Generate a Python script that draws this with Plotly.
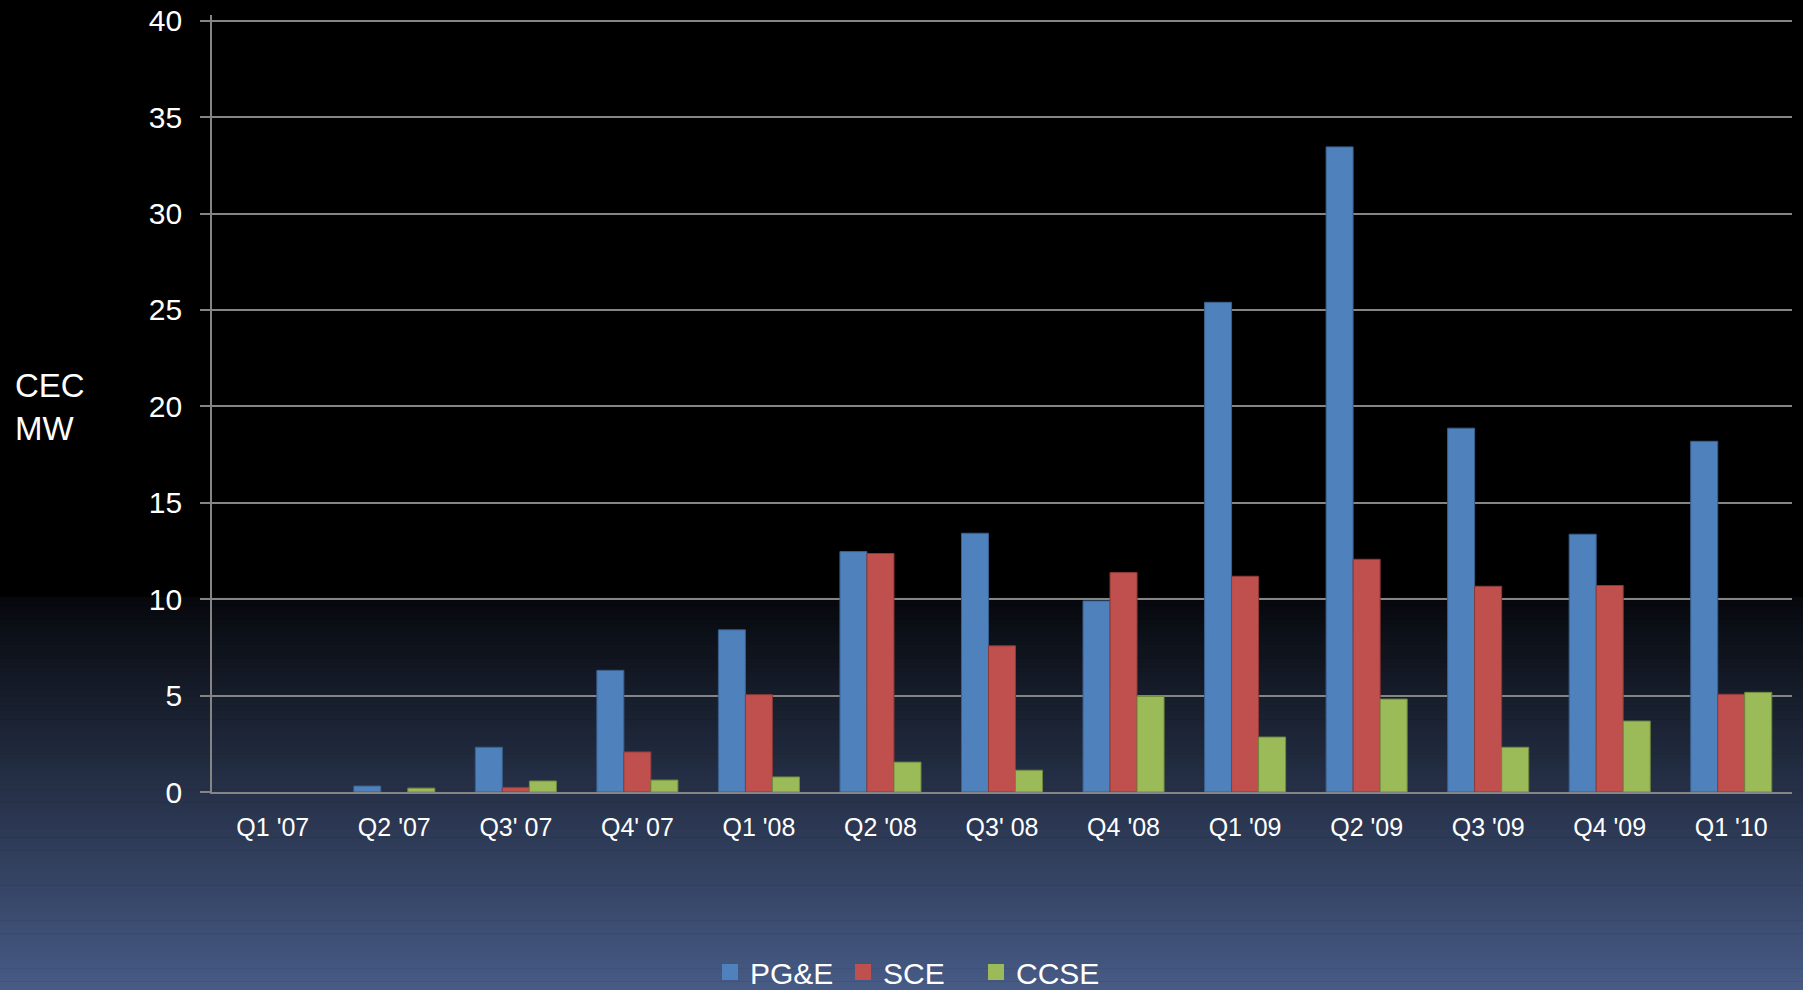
import plotly.graph_objects as go

quarters = ["Q1 '07", "Q2 '07", "Q3' 07", "Q4' 07", "Q1 '08", "Q2 '08", "Q3' 08",
            "Q4 '08", "Q1 '09", "Q2 '09", "Q3 '09", "Q4 '09", "Q1 '10"]
pge = [0, 0.31, 2.32, 6.31, 8.41, 12.47, 13.42, 9.91, 25.4, 33.46, 18.87, 13.37, 18.19]
sce = [0, 0, 0.24, 2.08, 5.05, 12.37, 7.58, 11.38, 11.19, 12.07, 10.67, 10.71, 5.07]
ccse = [0, 0.2, 0.57, 0.62, 0.78, 1.55, 1.13, 4.96, 2.85, 4.82, 2.32, 3.68, 5.17]
y_ticks = [0, 5, 10, 15, 20, 25, 30, 35, 40]

series = [
    ("PG&E", pge, "#4f81bd", "#3a5f8c"),
    ("SCE", sce, "#c0504d", "#8c3a38"),
    ("CCSE", ccse, "#9bbb59", "#72893f"),
]

W, H = 1803, 990
ML, MR, MT, MB = 212, 11, 15, 198
Y_MAX = 40.3
plot_w = W - ML - MR
plot_h = H - MT - MB
base_y = MT + plot_h

fig = go.Figure()
for name, vals, col, edge in series:
    fig.add_trace(go.Bar(
        x=quarters, y=vals, name=name, showlegend=False,
        marker=dict(color=col, line=dict(color=edge,
                                         width=[0 if v == 0 else 1 for v in vals])),
    ))
for name, vals, col, edge in series:
    fig.add_trace(go.Scatter(
        x=[None], y=[None], name=name, mode="markers",
        marker=dict(symbol="square", size=16, color=col),
    ))

# background gradient (black top, navy-blue bottom)
shapes = []
y_start, y_end = 597, H
n = 90
c0 = (6, 8, 12)
c1 = (71, 91, 134)
def py(pix):
    return (base_y - pix) / plot_h
for i in range(n):
    a = y_start + (y_end - y_start) * i / n
    b = y_start + (y_end - y_start) * (i + 1) / n
    t = (i + 0.5) / n
    c = tuple(round(c0[k] + (c1[k] - c0[k]) * t) for k in range(3))
    shapes.append(dict(
        type="rect", xref="paper", yref="paper",
        x0=-ML / plot_w - 0.01, x1=1 + MR / plot_w + 0.01,
        y0=py(b + 0.6), y1=py(a),
        fillcolor="rgb(%d,%d,%d)" % c, line=dict(width=0), layer="below",
    ))

fig.update_layout(
    width=W, height=H,
    margin=dict(l=ML, r=MR, t=MT, b=MB, autoexpand=False),
    paper_bgcolor="black",
    plot_bgcolor="rgba(0,0,0,0)",
    font=dict(family="Liberation Sans, Arial, sans-serif", color="white"),
    barmode="group",
    bargap=0.333,
    bargroupgap=0,
    shapes=shapes,
    legend=dict(
        orientation="h", xref="container", yref="container",
        x=710 / W, xanchor="left", y=1 - 946 / H, yanchor="top",
        font=dict(size=30, color="white"),
        bgcolor="rgba(0,0,0,0)",
        entrywidth=88, entrywidthmode="pixels",
    ),
    annotations=[dict(
        text="CEC<br>MW", xref="paper", yref="paper",
        x=-(ML - 13) / plot_w, y=(base_y - 407) / plot_h,
        xanchor="left", yanchor="middle",
        align="left", showarrow=False, font=dict(size=33, color="white"),
    )],
)
fig.update_yaxes(
    range=[0, Y_MAX], tickvals=y_ticks, ticktext=[str(v) for v in y_ticks],
    showgrid=True, gridcolor="#858585", gridwidth=1.6,
    showline=True, linecolor="#858585", linewidth=1.6,
    ticks="outside", ticklen=10, tickcolor="#858585", tickwidth=1.6,
    tickfont=dict(size=30, color="white"), ticklabelstandoff=12,
    zeroline=False, fixedrange=True, automargin=False,
)
fig.update_xaxes(
    showgrid=False, showline=True, linecolor="#858585", linewidth=1.6,
    ticks="", tickfont=dict(size=25, color="white"), ticklabelstandoff=12,
    fixedrange=True, automargin=False,
)

fig.write_html(
    "out.html",
    config={"displayModeBar": False},
    post_script="document.body.style.margin='0';document.body.style.background='black';",
)
